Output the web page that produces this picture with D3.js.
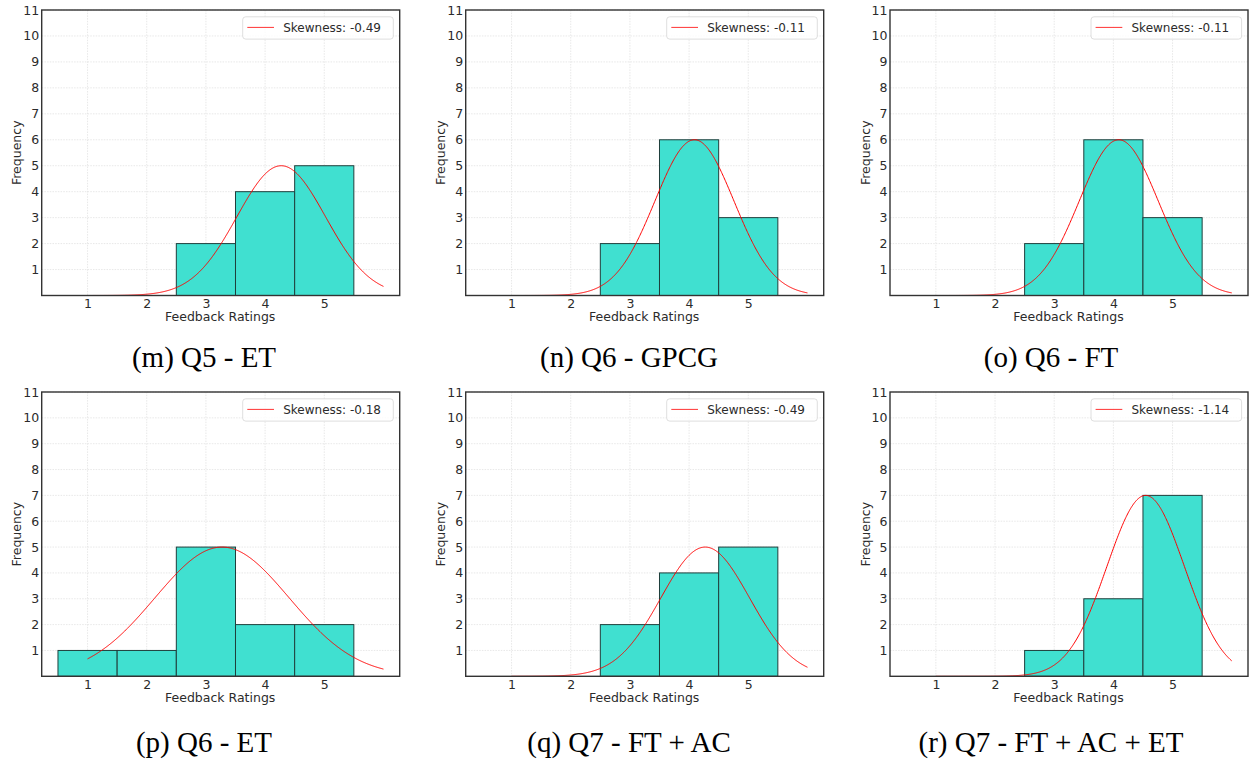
<!DOCTYPE html>
<html>
<head>
<meta charset="utf-8">
<script src="https://cdn.jsdelivr.net/npm/d3@7"></script>
<style>
  html, body { margin: 0; padding: 0; background: #fff; }
  svg { display: block; }
</style>
</head>
<body>
<svg id="chart" width="1249" height="761"></svg>
<script>
// ---- Data ----
const ratings = [1, 2, 3, 4, 5];           // bin centres (bins 0.5–5.5)
const yTicks = [1, 2, 3, 4, 5, 6, 7, 8, 9, 10, 11];
const captions = ["(m) Q5 - ET", "(n) Q6 - GPCG", "(o) Q6 - FT",
                  "(p) Q6 - ET", "(q) Q7 - FT + AC", "(r) Q7 - FT + AC + ET"];
const skewness = ["-0.49", "-0.11", "-0.11", "-0.18", "-0.49", "-1.14"];
const countsM = [0, 0, 2, 4, 5];
const countsN = [0, 0, 2, 6, 3];
const countsO = [0, 0, 2, 6, 3];
const countsP = [1, 1, 5, 2, 2];
const countsQ = [0, 0, 2, 4, 5];
const countsR = [0, 0, 1, 3, 7];
const allCounts = [countsM, countsN, countsO, countsP, countsQ, countsR];

// ---- Layout ----
const colLeft = [41.7, 465.7, 890];
const rowTop = [10, 392];
const plotW = 358, plotH = [285.5, 284.3];
const capX = [204, 629, 1051];
const capY = [367, 752];

const svg = d3.select("#chart");
const textCol = "#2b2b2b";
const fs = 12.5;

allCounts.forEach((counts, i) => {
  const c = i % 3, r = Math.floor(i / 3);
  const W = plotW, H = plotH[r];
  const g = svg.append("g").attr("transform", `translate(${colLeft[c]},${rowTop[r]})`);

  // x data range 0.5..6 with 5% margins
  const x0 = 0.5, x1 = 6.0, m = (x1 - x0) * 0.05;
  const x = d3.scaleLinear().domain([x0 - m, x1 + m]).range([0, W]);
  const y = d3.scaleLinear().domain([0, 11]).range([H, 0]);

  // grid
  g.append("g").selectAll("line.gx").data(ratings).join("line")
    .attr("x1", d => x(d)).attr("x2", d => x(d)).attr("y1", 0).attr("y2", H)
    .attr("stroke", "#e2e2e2").attr("stroke-width", 0.8).attr("stroke-dasharray", "1.5,1.2");
  g.append("g").selectAll("line.gy").data(yTicks).join("line")
    .attr("x1", 0).attr("x2", W).attr("y1", d => y(d)).attr("y2", d => y(d))
    .attr("stroke", "#e2e2e2").attr("stroke-width", 0.8).attr("stroke-dasharray", "1.5,1.2");

  // bars
  g.append("g").selectAll("rect").data(ratings.map((v, k) => ({ v, n: counts[k] })).filter(d => d.n > 0))
    .join("rect")
    .attr("x", d => x(d.v - 0.5)).attr("width", d => x(d.v + 0.5) - x(d.v - 0.5))
    .attr("y", d => y(d.n)).attr("height", d => y(0) - y(d.n))
    .attr("fill", "#40E0D0").attr("stroke", "#1f3f3c").attr("stroke-width", 1);

  // normal fit curve scaled to max frequency (from counts)
  const N = d3.sum(counts);
  const mean = d3.sum(ratings, (v, k) => v * counts[k]) / N;
  const variance = d3.sum(ratings, (v, k) => counts[k] * (v - mean) ** 2) / N;
  const peak = d3.max(counts);
  const xs = d3.range(0, 501).map(k => 1 + k * 5 / 500);
  const pts = xs.map(xx => [xx, peak * Math.exp(-((xx - mean) ** 2) / (2 * variance))]);
  g.append("path").datum(pts)
    .attr("d", d3.line().x(d => x(d[0])).y(d => y(d[1])))
    .attr("fill", "none").attr("stroke", "#ff0000").attr("stroke-width", 1);

  // axes
  const ax = g.append("g").attr("transform", `translate(0,${H})`)
    .call(d3.axisBottom(x).tickValues(ratings).tickSize(0).tickPadding(4).tickFormat(d3.format("d")));
  const ay = g.append("g")
    .call(d3.axisLeft(y).tickValues(yTicks).tickSize(0).tickPadding(2.5).tickFormat(d3.format("d")));
  [ax, ay].forEach(a => {
    a.select(".domain").remove();
    a.attr("font-size", null).attr("font-family", null);
    a.selectAll("text").style("font-family", "DejaVu Sans").style("font-size", fs + "px").attr("fill", textCol);
  });

  // frame
  g.append("rect").attr("x", 0).attr("y", 0).attr("width", W).attr("height", H)
    .attr("fill", "none").attr("stroke", "#333").attr("stroke-width", 1.4);

  // axis labels
  g.append("text").attr("x", W / 2 - 0.5).attr("y", H + 25.5)
    .attr("text-anchor", "middle").style("font-family", "DejaVu Sans").style("font-size", fs + "px")
    .attr("fill", textCol).text("Feedback Ratings");
  g.append("text").attr("transform", `translate(-20.5,${H / 2}) rotate(-90)`)
    .attr("text-anchor", "middle").style("font-family", "DejaVu Sans").style("font-size", fs + "px")
    .attr("fill", textCol).text("Frequency");

  // legend
  const lg = g.append("g").attr("transform", `translate(${W - 157},6.8)`);
  lg.append("rect").attr("width", 150.6).attr("height", 22.3).attr("rx", 3)
    .attr("fill", "#fff").attr("fill-opacity", 0.8).attr("stroke", "#d6d6d6").attr("stroke-width", 0.8);
  lg.append("line").attr("x1", 4.6).attr("x2", 31.3).attr("y1", 10.6).attr("y2", 10.6)
    .attr("stroke", "#ff0000").attr("stroke-width", 1).attr("stroke-opacity", 0.8);
  lg.append("text").attr("x", 40.5).attr("y", 15.2)
    .style("font-family", "DejaVu Sans").style("font-size", "12px").attr("fill", textCol)
    .text("Skewness: " + skewness[i]);

  // caption
  svg.append("text").attr("x", capX[c]).attr("y", capY[r])
    .attr("text-anchor", "middle").style("font-family", "Liberation Serif").style("font-size", "29px")
    .attr("fill", "#000").text(captions[i]);
});
</script>
</body>
</html>
